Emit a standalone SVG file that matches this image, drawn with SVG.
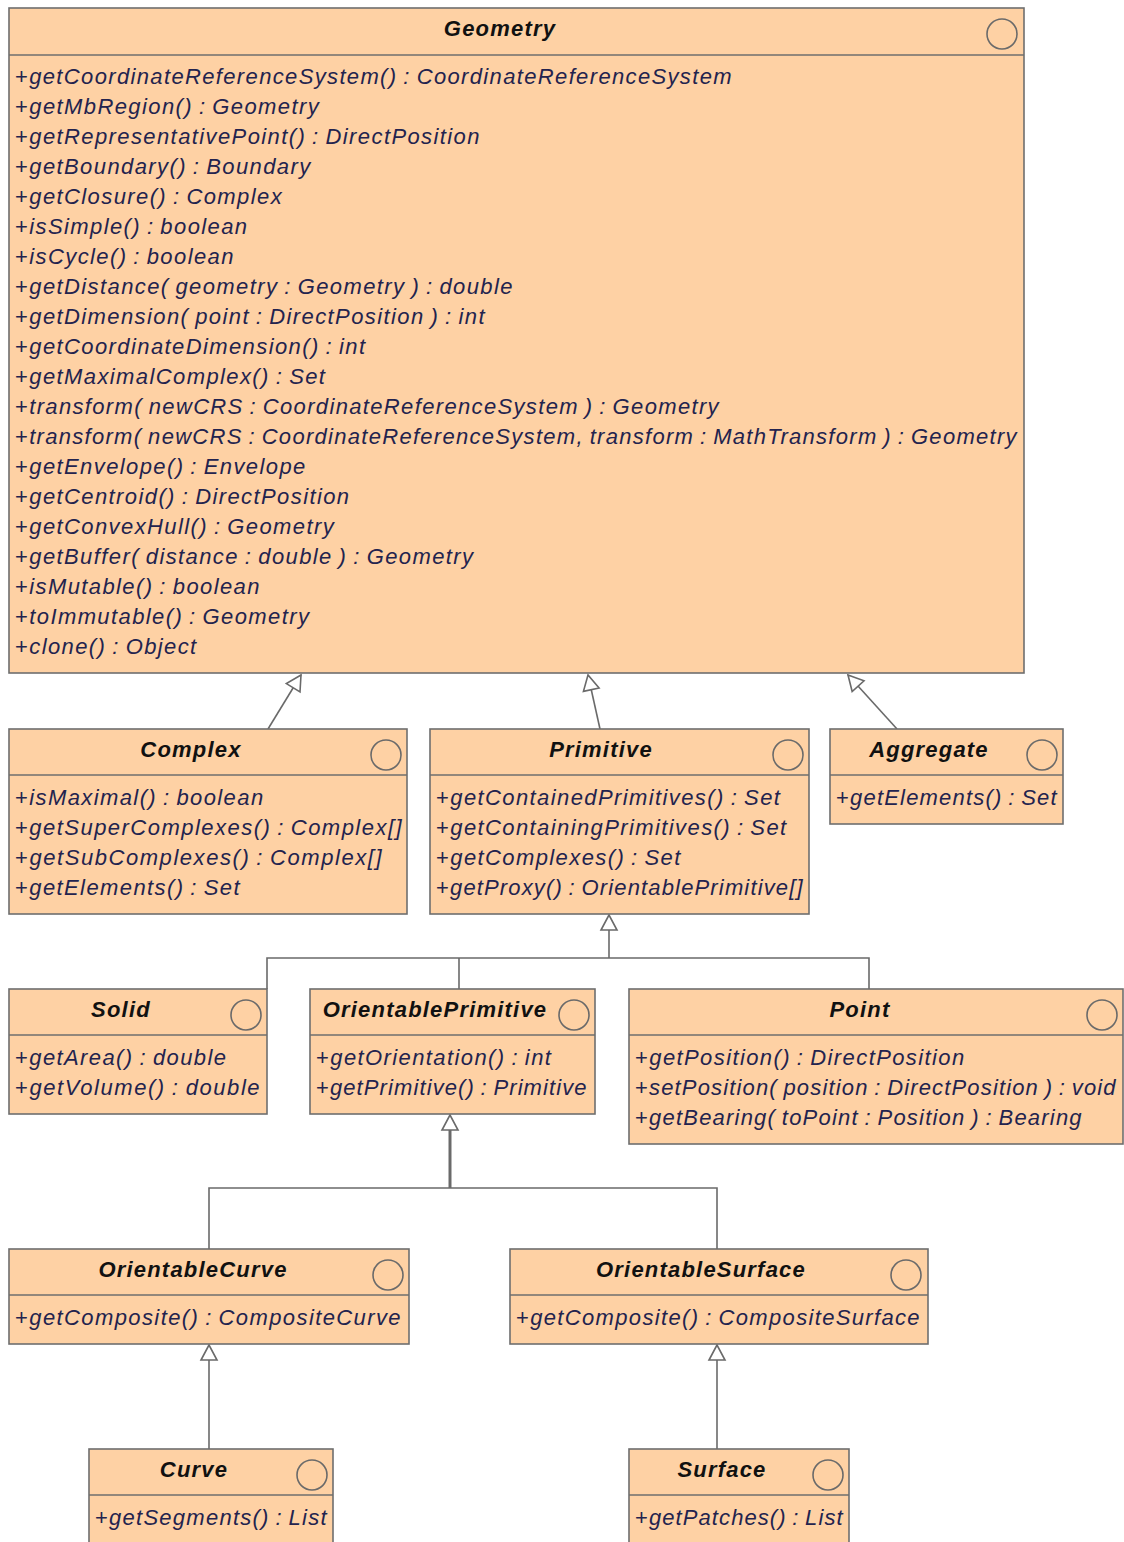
<svg xmlns="http://www.w3.org/2000/svg" width="1124" height="1542" viewBox="0 0 1124 1542">
  <style>
    .box { fill: #FED1A4; stroke: #6E6E6E; stroke-width: 1.6; }
    .sep { stroke: #6E6E6E; stroke-width: 1.6; }
    .ico { fill: none; stroke: #6A6A6A; stroke-width: 1.6; }
    .title { font-family: "Liberation Sans", Arial, sans-serif; font-size: 22px; font-weight: bold; font-style: italic; fill: #111; text-anchor: middle; letter-spacing: 1.2px; }
    .op { font-family: "Liberation Sans", Arial, sans-serif; font-size: 22px; font-style: italic; fill: #23234E; letter-spacing: 1.4px; word-spacing: -1.6px; }
    .op tspan.v { font-style: normal; }
    .conn { stroke: #6A6A6A; stroke-width: 1.6; fill: none; }
    .thick { stroke-width: 3; }
  </style>
  <defs>
    <marker id="gen" markerUnits="userSpaceOnUse" markerWidth="20" markerHeight="20" viewBox="-17 -10 20 20" refX="0" refY="0" orient="auto">
      <path d="M0,0 L-15,-8 L-15,8 Z" fill="#fff" stroke="#6A6A6A" stroke-width="1.6" stroke-linejoin="miter"/>
    </marker>
  </defs>

  <rect width="1124" height="1542" fill="#fff"/>

  <!-- generalization connectors -->
  <g id="connectors">
    <line class="conn" x1="268" y1="729" x2="301" y2="675" marker-end="url(#gen)"/>
    <line class="conn" x1="600" y1="729" x2="588" y2="675" marker-end="url(#gen)"/>
    <line class="conn" x1="897" y1="729" x2="848" y2="675" marker-end="url(#gen)"/>

    <polyline class="conn" points="267,989 267,958 869,958 869,989"/>
    <line class="conn" x1="459" y1="958" x2="459" y2="989"/>
    <line class="conn" x1="609" y1="958" x2="609" y2="915" marker-end="url(#gen)"/>

    <polyline class="conn" points="209,1249 209,1188 717,1188 717,1249"/>
    <line class="conn thick" x1="450" y1="1188" x2="450" y2="1130"/>
    <line class="conn" x1="450" y1="1140" x2="450" y2="1115" marker-end="url(#gen)"/>

    <line class="conn" x1="209" y1="1449" x2="209" y2="1345" marker-end="url(#gen)"/>
    <line class="conn" x1="717" y1="1449" x2="717" y2="1345" marker-end="url(#gen)"/>
  </g>

  <!-- Geometry -->
  <g id="geometry">
    <rect class="box" x="9" y="8" width="1015" height="665"/>
    <line class="sep" x1="9" y1="55" x2="1024" y2="55"/>
    <circle class="ico" cx="1002" cy="34" r="15"/>
    <text class="title" x="500" y="36">Geometry</text>
    <text class="op" x="15" y="84" textLength="718" lengthAdjust="spacing"><tspan class="v">+</tspan>getCoordinateReferenceSystem() : CoordinateReferenceSystem</text>
    <text class="op" x="15" y="114"><tspan class="v">+</tspan>getMbRegion() : Geometry</text>
    <text class="op" x="15" y="144"><tspan class="v">+</tspan>getRepresentativePoint() : DirectPosition</text>
    <text class="op" x="15" y="174"><tspan class="v">+</tspan>getBoundary() : Boundary</text>
    <text class="op" x="15" y="204"><tspan class="v">+</tspan>getClosure() : Complex</text>
    <text class="op" x="15" y="234"><tspan class="v">+</tspan>isSimple() : boolean</text>
    <text class="op" x="15" y="264"><tspan class="v">+</tspan>isCycle() : boolean</text>
    <text class="op" x="15" y="294"><tspan class="v">+</tspan>getDistance( geometry : Geometry ) : double</text>
    <text class="op" x="15" y="324"><tspan class="v">+</tspan>getDimension( point : DirectPosition ) : int</text>
    <text class="op" x="15" y="354"><tspan class="v">+</tspan>getCoordinateDimension() : int</text>
    <text class="op" x="15" y="384"><tspan class="v">+</tspan>getMaximalComplex() : Set</text>
    <text class="op" x="15" y="414" textLength="705" lengthAdjust="spacing"><tspan class="v">+</tspan>transform( newCRS : CoordinateReferenceSystem ) : Geometry</text>
    <text class="op" x="15" y="444" textLength="1003" lengthAdjust="spacing"><tspan class="v">+</tspan>transform( newCRS : CoordinateReferenceSystem, transform : MathTransform ) : Geometry</text>
    <text class="op" x="15" y="474"><tspan class="v">+</tspan>getEnvelope() : Envelope</text>
    <text class="op" x="15" y="504"><tspan class="v">+</tspan>getCentroid() : DirectPosition</text>
    <text class="op" x="15" y="534"><tspan class="v">+</tspan>getConvexHull() : Geometry</text>
    <text class="op" x="15" y="564"><tspan class="v">+</tspan>getBuffer( distance : double ) : Geometry</text>
    <text class="op" x="15" y="594"><tspan class="v">+</tspan>isMutable() : boolean</text>
    <text class="op" x="15" y="624"><tspan class="v">+</tspan>toImmutable() : Geometry</text>
    <text class="op" x="15" y="654"><tspan class="v">+</tspan>clone() : Object</text>
  </g>

  <!-- Complex -->
  <g id="complex">
    <rect class="box" x="9" y="729" width="398" height="185"/>
    <line class="sep" x1="9" y1="775" x2="407" y2="775"/>
    <circle class="ico" cx="386" cy="755" r="15"/>
    <text class="title" x="191" y="757">Complex</text>
    <text class="op" x="15" y="805"><tspan class="v">+</tspan>isMaximal() : boolean</text>
    <text class="op" x="15" y="835" textLength="388" lengthAdjust="spacing"><tspan class="v">+</tspan>getSuperComplexes() : Complex[]</text>
    <text class="op" x="15" y="865" textLength="368" lengthAdjust="spacing"><tspan class="v">+</tspan>getSubComplexes() : Complex[]</text>
    <text class="op" x="15" y="895"><tspan class="v">+</tspan>getElements() : Set</text>
  </g>

  <!-- Primitive -->
  <g id="primitive">
    <rect class="box" x="430" y="729" width="379" height="185"/>
    <line class="sep" x1="430" y1="775" x2="809" y2="775"/>
    <circle class="ico" cx="788" cy="755" r="15"/>
    <text class="title" x="601" y="757">Primitive</text>
    <text class="op" x="436" y="805"><tspan class="v">+</tspan>getContainedPrimitives() : Set</text>
    <text class="op" x="436" y="835"><tspan class="v">+</tspan>getContainingPrimitives() : Set</text>
    <text class="op" x="436" y="865"><tspan class="v">+</tspan>getComplexes() : Set</text>
    <text class="op" x="436" y="895" textLength="368" lengthAdjust="spacing"><tspan class="v">+</tspan>getProxy() : OrientablePrimitive[]</text>
  </g>

  <!-- Aggregate -->
  <g id="aggregate">
    <rect class="box" x="830" y="729" width="233" height="95"/>
    <line class="sep" x1="830" y1="775" x2="1063" y2="775"/>
    <circle class="ico" cx="1042" cy="755" r="15"/>
    <text class="title" x="929" y="757">Aggregate</text>
    <text class="op" x="836" y="805" textLength="222" lengthAdjust="spacing"><tspan class="v">+</tspan>getElements() : Set</text>
  </g>

  <!-- Solid -->
  <g id="solid">
    <rect class="box" x="9" y="989" width="258" height="125"/>
    <line class="sep" x1="9" y1="1035" x2="267" y2="1035"/>
    <circle class="ico" cx="246" cy="1015" r="15"/>
    <text class="title" x="121" y="1017">Solid</text>
    <text class="op" x="15" y="1065"><tspan class="v">+</tspan>getArea() : double</text>
    <text class="op" x="15" y="1095" textLength="246" lengthAdjust="spacing"><tspan class="v">+</tspan>getVolume() : double</text>
  </g>

  <!-- OrientablePrimitive -->
  <g id="orientable-primitive">
    <rect class="box" x="310" y="989" width="285" height="125"/>
    <line class="sep" x1="310" y1="1035" x2="595" y2="1035"/>
    <circle class="ico" cx="574" cy="1015" r="15"/>
    <text class="title" x="435" y="1017">OrientablePrimitive</text>
    <text class="op" x="316" y="1065"><tspan class="v">+</tspan>getOrientation() : int</text>
    <text class="op" x="316" y="1095" textLength="272" lengthAdjust="spacing"><tspan class="v">+</tspan>getPrimitive() : Primitive</text>
  </g>

  <!-- Point -->
  <g id="point">
    <rect class="box" x="629" y="989" width="494" height="155"/>
    <line class="sep" x1="629" y1="1035" x2="1123" y2="1035"/>
    <circle class="ico" cx="1102" cy="1015" r="15"/>
    <text class="title" x="860" y="1017">Point</text>
    <text class="op" x="635" y="1065"><tspan class="v">+</tspan>getPosition() : DirectPosition</text>
    <text class="op" x="635" y="1095" textLength="482" lengthAdjust="spacing"><tspan class="v">+</tspan>setPosition( position : DirectPosition ) : void</text>
    <text class="op" x="635" y="1125" textLength="448" lengthAdjust="spacing"><tspan class="v">+</tspan>getBearing( toPoint : Position ) : Bearing</text>
  </g>

  <!-- OrientableCurve -->
  <g id="orientable-curve">
    <rect class="box" x="9" y="1249" width="400" height="95"/>
    <line class="sep" x1="9" y1="1295" x2="409" y2="1295"/>
    <circle class="ico" cx="388" cy="1275" r="15"/>
    <text class="title" x="193" y="1277">OrientableCurve</text>
    <text class="op" x="15" y="1325" textLength="387" lengthAdjust="spacing"><tspan class="v">+</tspan>getComposite() : CompositeCurve</text>
  </g>

  <!-- OrientableSurface -->
  <g id="orientable-surface">
    <rect class="box" x="510" y="1249" width="418" height="95"/>
    <line class="sep" x1="510" y1="1295" x2="928" y2="1295"/>
    <circle class="ico" cx="906" cy="1275" r="15"/>
    <text class="title" x="701" y="1277">OrientableSurface</text>
    <text class="op" x="516" y="1325" textLength="405" lengthAdjust="spacing"><tspan class="v">+</tspan>getComposite() : CompositeSurface</text>
  </g>

  <!-- Curve -->
  <g id="curve">
    <rect class="box" x="89" y="1449" width="244" height="110"/>
    <line class="sep" x1="89" y1="1495" x2="333" y2="1495"/>
    <circle class="ico" cx="312" cy="1475" r="15"/>
    <text class="title" x="194" y="1477">Curve</text>
    <text class="op" x="95" y="1525" textLength="233" lengthAdjust="spacing"><tspan class="v">+</tspan>getSegments() : List</text>
  </g>

  <!-- Surface -->
  <g id="surface">
    <rect class="box" x="629" y="1449" width="220" height="110"/>
    <line class="sep" x1="629" y1="1495" x2="849" y2="1495"/>
    <circle class="ico" cx="828" cy="1475" r="15"/>
    <text class="title" x="722" y="1477">Surface</text>
    <text class="op" x="635" y="1525" textLength="209" lengthAdjust="spacing"><tspan class="v">+</tspan>getPatches() : List</text>
  </g>
</svg>
